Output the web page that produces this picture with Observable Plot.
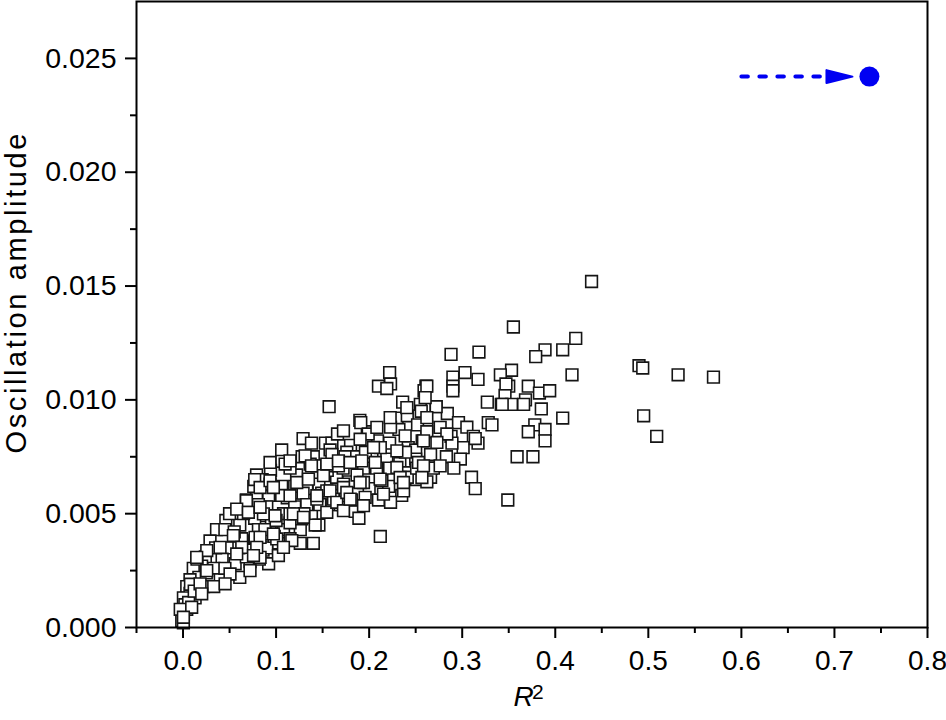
<!DOCTYPE html>
<html>
<head>
<meta charset="utf-8">
<script src="https://cdn.jsdelivr.net/npm/d3@7"></script>
<script src="https://cdn.jsdelivr.net/npm/@observablehq/plot@0.6"></script>
<style>
  html, body { margin: 0; padding: 0; background: #fff; }
  #chart { width: 946px; height: 720px; }
</style>
</head>
<body>
<div id="chart"></div>
<script>
// ---- data ----
const r2 = [
  0.439,0.422,0.408,0.418,0.408,0.490,0.494,0.532,0.570,0.495,0.509,
  0.355,0.389,0.379,0.288,0.318,0.303,0.290,0.290,0.290,0.317,0.261,0.259,
  0.353,0.341,0.350,0.371,0.383,0.394,0.346,0.342,0.353,0.368,0.366,0.327,0.385,
  0.328,0.332,0.378,0.371,0.389,0.389,0.359,0.376,0.349,
  0.272,0.284,0.296,0.305,0.312,0.317,0.288,0.301,0.289,0.266,0.283,0.298,0.291,0.310,0.314,0.267,0.266,0.262,0.257,
  0.222,0.210,0.223,0.219,0.262,0.347,0.343,0.236,0.255,0.256,0.272,0.190,0.230,0.241,0.252,0.262,0.232,0.223,0.314,
  0.198,0.209,0.222,0.242,0.250,0.180,0.176,0.184,0.203,0.219,0.233,0.250,0.269,0.194,0.208,0.222,0.239,0.251,
  0.178,0.200,0.221,0.235,0.210,0.223,0.185,0.189,0.172,0.212,0.157,0.191,
  0.199,0.129,0.138,0.106,0.153,0.160,0.166,0.140,0.158,0.196,0.106,0.122,0.094,0.079,0.165,
  0.146,0.237,0.262,0.092,0.106,0.120,0.133,0.147,0.160,0.169,0.181,0.079,0.090,0.122,0.108,0.138,0.146,0.126,0.088,0.077,0.106,0.126,0.140,0.090,0.094,0.077,
  0.076,0.085,0.095,0.081,0.086,0.112,0.129,0.149,0.155,0.144,0.115,0.172,0.187,0.241,0.251,0.239,0.212,0.172,
  0.128,0.160,0.174,0.077,0.068,0.081,0.106,0.120,0.133,0.147,0.169,0.046,0.061,0.088,0.108,0.142,
  0.036,0.029,0.045,0.050,0.063,0.074,0.090,0.042,0.056,0.072,0.092,0.024,0.020,0.033,0.011,0.017,0.029,0.040,0.061,0.0075,0.004,0.022,0.033,0.0075,0.013,0.0004,0.002,0.0004,-0.0014,0.004,0.006,-0.003,0.0004,
  0.050,0.055,0.065,0.035,0.015,0.025,0.045,0.068,0.082,0.100,0.115,0.130,0.115,0.098,0.060,0.008,0.012,
  0.0935,0.1097,0.1366,0.1545,0.1670,0.1222,0.1348,0.1509,0.1724,0.1545,0.1438,0.1617,0.1742,0.0935,0.0828,0.0681,0.0577,0.0702,0.0864,0.0989,0.1150,0.1276,0.0541,0.0774,0.1007,0.1169,0.0631,0.0828,0.1025,0.0577,0.0398,0.0255,0.0147,0.0720,0.0505,0.0255,0.0452,0.0183,0.0201,0.0093,0.0004,
  0.1312,0.1150,0.0935,0.1380,0.1545,0.1670,0.1796,0.2065,0.2298,0.2530,0.2333,0.2137,0.1939,0.1724,0.1580,0.1438,0.1150,0.0971,0.0828,0.1186,0.1294,0.1545,0.1652,0.0971,0.0828,0.1079,0.0792,0.0757,
  0.2602,0.2405,0.2226,0.2083,0.2620,0.2763,0.2835,0.2728,0.2584,0.2387,0.2298,0.1903,0.2047,0.1724,0.1921,0.2584,0.2763,0.2567,0.2369,0.2118,0.1903,0.1760,0.1957,0.2154,0.1724,0.1939,0.1796
];
const amp = [
  0.0152,0.0127,0.0122,0.0111,0.0092,0.0115,0.0114,0.0111,0.0110,0.0093,0.0084,
  0.0132,0.0122,0.0119,0.0120,0.0121,0.0112,0.0110,0.0106,0.0104,0.0109,0.0106,0.0104,
  0.0113,0.0111,0.0106,0.0106,0.0103,0.0104,0.0102,0.0098,0.0098,0.0100,0.0098,0.0099,0.0096,
  0.0090,0.0089,0.0089,0.0086,0.0087,0.0082,0.0075,0.0075,0.0056,
  0.0097,0.0094,0.0090,0.0088,0.0084,0.0081,0.0084,0.0079,0.0081,0.0076,0.0075,0.0074,0.0070,0.0066,0.0061,0.0070,0.0066,0.0088,0.0082,
  0.0112,0.0106,0.0107,0.0105,0.0106,0.0107,0.0098,0.0099,0.0098,0.0095,0.0097,0.0091,0.0092,0.0093,0.0089,0.0086,0.0087,0.0088,0.0083,
  0.0086,0.0082,0.0081,0.0079,0.0078,0.0080,0.0077,0.0075,0.0077,0.0074,0.0072,0.0074,0.0070,0.0070,0.0070,0.0070,0.0068,0.0065,
  0.0064,0.0061,0.0062,0.0058,0.0056,0.0055,0.0051,0.0048,0.0054,0.0040,0.0097,0.0090,
  0.0085,0.0083,0.0081,0.0078,0.0081,0.0081,0.0085,0.0075,0.0078,0.0077,0.0073,0.0067,0.0069,0.0067,0.0066,
  0.0063,0.0060,0.0064,0.0058,0.0062,0.0062,0.0061,0.0055,0.0054,0.0058,0.0056,0.0057,0.0053,0.0054,0.0050,0.0049,0.0045,0.0043,0.0044,0.0048,0.0042,0.0037,0.0037,0.0036,0.0032,0.0038,
  0.0062,0.0065,0.0048,0.0043,0.0034,0.0057,0.0059,0.0059,0.0069,0.0071,0.0070,0.0070,0.0067,0.0066,0.0070,0.0077,0.0079,0.0073,
  0.0075,0.0076,0.0075,0.0065,0.0056,0.0054,0.0058,0.0053,0.0054,0.0054,0.0054,0.0047,0.0045,0.0043,0.0043,0.0045,
  0.0043,0.0038,0.0043,0.0035,0.0039,0.0034,0.0035,0.0030,0.0028,0.0029,0.0028,0.0031,0.0027,0.0026,0.0026,0.0022,0.0021,0.0021,0.0022,0.0021,0.0018,0.0018,0.0018,0.0015,0.0013,0.0013,0.0010,0.0006,0.0003,0.0008,0.0011,0.0008,0.0002,
  0.0050,0.0042,0.0050,0.0035,0.0030,0.0024,0.0026,0.0031,0.0030,0.0047,0.0046,0.0050,0.0039,0.0040,0.0035,0.0019,0.0016,
  0.00725,0.00718,0.00718,0.0071,0.0071,0.00637,0.00652,0.00667,0.0063,0.0060,0.00564,0.00564,0.00579,0.0063,0.00615,0.00557,0.0052,0.00506,0.00499,0.00491,0.00499,0.00477,0.00404,0.00396,0.00389,0.00382,0.00352,0.00308,0.00316,0.00323,0.00352,0.00338,0.00308,0.0025,0.00235,0.0025,0.00192,0.00192,0.00148,0.00089,0.00045,
  0.00754,0.00732,0.00645,0.0071,0.00718,0.00732,0.00725,0.00725,0.00703,0.00725,0.00659,0.00645,0.00637,0.00615,0.0060,0.00579,0.00579,0.00615,0.00528,0.00499,0.00484,0.00506,0.0055,0.00411,0.00396,0.00352,0.00352,0.00316,
  0.0101,0.00966,0.00922,0.00879,0.00922,0.00879,0.0085,0.00813,0.0082,0.00842,0.00776,0.00827,0.00791,0.00864,0.00732,0.0071,0.0071,0.00659,0.00637,0.00652,0.00637,0.00593,0.00572,0.00586,0.00513,0.00535,0.00564
];

// highlighted point and its arrow
const markerR2 = [0.7376];
const markerAmp = [0.0242];
const arrowStartR2 = [0.600];
const arrowEndR2 = [0.6935];
const arrowHeadR2 = [0.7054];

// ticks
const xTicks = [0, 0.1, 0.2, 0.3, 0.4, 0.5, 0.6, 0.7, 0.8];
const xMinorTicks = [-0.05, 0.05, 0.15, 0.25, 0.35, 0.45, 0.55, 0.65, 0.75];
const yTicks = [0, 0.005, 0.010, 0.015, 0.020, 0.025];
const yMinorTicks = [0.0025, 0.0075, 0.0125, 0.0175, 0.0225];

const xLabel = "R";
const xLabelSup = "2";
const yLabel = "Oscillation amplitude";

// ---- chart ----
const blue = "#0000f2";
const arrowHeadSymbol = {
  draw(context, size) {
    const s = Math.sqrt(size / Math.PI);
    context.moveTo(1.3 * s, 0);
    context.lineTo(-1.3 * s, -0.65 * s);
    context.lineTo(-1.3 * s, 0.65 * s);
    context.closePath();
  }
};

const links = arrowStartR2.map((x1, i) => ({x1, x2: arrowEndR2[i], y: markerAmp[i]}));
const heads = arrowHeadR2.map((x, i) => ({x, y: markerAmp[i]}));

const chart = Plot.plot({
  width: 946,
  height: 720,
  marginTop: 1,
  marginRight: 19,
  marginBottom: 93,
  marginLeft: 136,
  style: {fontFamily: "'Liberation Sans', Arial, Helvetica, sans-serif", color: "black", background: "white"},
  x: {domain: [-0.05, 0.8]},
  y: {domain: [0, 0.0275]},
  marks: [
    Plot.axisX({ticks: xMinorTicks, tickSize: 6, tickFormat: () => "", strokeWidth: 2, label: null}),
    Plot.axisX({ticks: xTicks, tickSize: 11, tickPadding: 12, tickFormat: d3.format(".1f"), fontSize: 28, strokeWidth: 2, label: null}),
    Plot.axisY({ticks: yMinorTicks, tickSize: 6, tickFormat: () => "", strokeWidth: 2, label: null}),
    Plot.axisY({ticks: yTicks, tickSize: 11, tickPadding: 9, tickFormat: d3.format(".3f"), fontSize: 28.5, strokeWidth: 2, label: null}),
    Plot.dot(amp, {x: r2, y: amp, symbol: "square", r: 6.6, fill: "white", stroke: "#151515", strokeWidth: 1.6}),
    Plot.link(links, {x1: "x1", x2: "x2", y1: "y", y2: "y", stroke: blue, strokeWidth: 4, strokeDasharray: "6.5,11.5", strokeLinecap: "round"}),
    Plot.dot(heads, {x: "x", y: "y", symbol: arrowHeadSymbol, r: 10, fill: blue, stroke: blue, strokeWidth: 2, strokeLinejoin: "round"}),
    Plot.dot(markerR2, {x: markerR2, y: markerAmp, r: 10, fill: blue}),
    Plot.frame({stroke: "black", strokeWidth: 2}),
    Plot.text([yLabel], {frameAnchor: "left", rotate: -90, dx: -119.3, dy: -21, fontSize: 29, textAnchor: "middle", fill: "black"}),
    Plot.text([xLabel], {frameAnchor: "bottom", dx: -8.5, dy: 78.4, fontSize: 28, fontStyle: "italic", fill: "black"}),
    Plot.text([xLabelSup], {frameAnchor: "bottom", textAnchor: "start", dx: 0, dy: 71, fontSize: 21, fill: "black"})
  ]
});
// stretch the y-axis title to the length it has in the reference
d3.select(chart).selectAll("text")
  .filter(function () { return this.textContent === yLabel; })
  .attr("textLength", 320);
document.getElementById("chart").appendChild(chart);
</script>
</body>
</html>
